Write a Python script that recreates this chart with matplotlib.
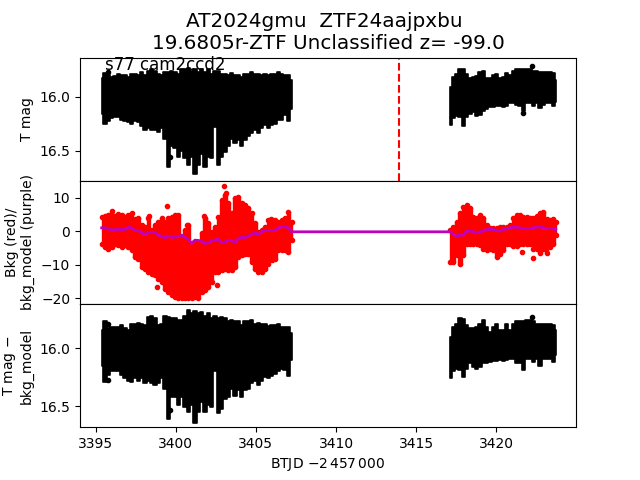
import matplotlib
matplotlib.use('Agg')
import matplotlib.pyplot as plt

#time grid of the two chunks, BTJD - 2457000
t_a = [3395.38, 3395.59, 3395.80, 3396.00, 3396.21, 3396.42, 3396.63, 3396.84, 3397.04, 3397.25,
       3397.46, 3397.67, 3397.87, 3398.08, 3398.29, 3398.50, 3398.71, 3398.91, 3399.12, 3399.33,
       3399.54, 3399.74, 3399.95, 3400.16, 3400.37, 3400.57, 3400.78, 3400.99, 3401.20, 3401.41,
       3401.61, 3401.82, 3402.03, 3402.24, 3402.44, 3402.65, 3402.86, 3403.07, 3403.28, 3403.48,
       3403.69, 3403.90, 3404.11, 3404.31, 3404.52, 3404.73, 3404.94, 3405.15, 3405.35, 3405.56,
       3405.77, 3405.98, 3406.18, 3406.39, 3406.60, 3406.81, 3407.02, 3407.22]
t_b = [3417.10, 3417.31, 3417.52, 3417.72, 3417.93, 3418.14, 3418.35, 3418.56, 3418.76, 3418.97,
       3419.18, 3419.39, 3419.60, 3419.80, 3420.01, 3420.22, 3420.43, 3420.64, 3420.85, 3421.05,
       3421.26, 3421.47, 3421.68, 3421.89, 3422.09, 3422.30, 3422.51, 3422.72, 3422.93, 3423.13,
       3423.34, 3423.55, 3423.70]

#T mag, extent of the points and errorbars
mag_hi_a = [15.83, 15.78, 15.80, 15.82, 15.81, 15.79, 15.80, 15.80, 15.82, 15.79,
            15.79, 15.80, 15.77, 15.80, 15.76, 15.75, 15.76, 15.79, 15.80, 15.77,
            15.77, 15.76, 15.77, 15.79, 15.75, 15.75, 15.74, 15.76, 15.75, 15.77,
            15.75, 15.77, 15.75, 15.79, 15.76, 15.76, 15.79, 15.79, 15.80, 15.78,
            15.80, 15.80, 15.82, 15.79, 15.79, 15.77, 15.79, 15.79, 15.80, 15.79,
            15.80, 15.79, 15.79, 15.77, 15.79, 15.80, 15.80, 15.85]
mag_lo_a = [16.16, 16.25, 16.23, 16.20, 16.19, 16.19, 16.22, 16.23, 16.24, 16.25,
            16.23, 16.24, 16.27, 16.31, 16.29, 16.31, 16.31, 16.33, 16.29, 16.39,
            16.65, 16.46, 16.48, 16.56, 16.50, 16.57, 16.63, 16.56, 16.72, 16.63,
            16.53, 16.65, 16.56, 16.57, 16.28, 16.63, 16.56, 16.51, 16.46, 16.39,
            16.43, 16.40, 16.46, 16.40, 16.37, 16.34, 16.31, 16.34, 16.29, 16.26,
            16.29, 16.26, 16.25, 16.22, 16.22, 16.17, 16.23, 16.12]
mag_hi_b = [15.91, 15.82, 15.79, 15.75, 15.75, 15.79, 15.83, 15.82, 15.81, 15.77,
            15.76, 15.83, 15.83, 15.80, 15.79, 15.83, 15.82, 15.78, 15.80, 15.76,
            15.75, 15.75, 15.75, 15.75, 15.75, 15.76, 15.76, 15.77, 15.77, 15.77,
            15.77, 15.78, 15.85]
mag_lo_b = [16.26, 16.20, 16.18, 16.19, 16.27, 16.19, 16.16, 16.14, 16.18, 16.17,
            16.13, 16.12, 16.10, 16.10, 16.09, 16.09, 16.10, 16.09, 16.06, 16.06,
            16.08, 16.09, 16.13, 16.06, 16.06, 16.09, 16.06, 16.11, 16.08, 16.06,
            16.06, 16.09, 16.05]
mag_out_t = [3399.65, 3395.80, 3422.20, 3421.67]
mag_out_y = [16.56, 15.77, 15.72, 16.15]

#Bkg, extent of the red points
bkg_hi_a = [4.33, 4.53, 4.83, 6.12, 4.53, 5.02, 4.83, 4.13, 4.83, 5.32,
            3.53, 3.83, 1.84, 1.34, 3.83, 0.35, 1.84, 2.84, 3.83, 2.84,
            3.83, 4.33, 4.83, 4.83, -2.14, 0.35, 1.84, -3.63, -3.13, -3.13,
            -0.65, 3.83, 2.34, -0.15, 1.34, 4.33, 9.30, 10.80, 8.31, 5.32,
            9.80, 10.30, 8.31, 7.81, 6.82, 5.32, 2.34, -0.15, 0.35, 1.34,
            3.33, 3.33, 3.33, 2.84, 3.33, 3.83, 5.62, 2.84]
bkg_lo_a = [-3.73, -4.73, -5.42, -4.73, -3.73, -4.03, -4.73, -4.23, -4.73, -5.72,
            -7.71, -8.21, -10.70, -11.19, -12.19, -12.69, -13.18, -14.18, -15.17, -17.16,
            -18.16, -19.15, -19.65, -19.95, -19.95, -19.95, -19.95, -19.95, -19.65, -19.95,
            -18.16, -17.66, -16.67, -15.17, -12.19, -12.19, -11.69, -11.19, -11.69, -11.69,
            -10.70, -7.71, -7.21, -6.72, -6.72, -9.20, -11.19, -12.19, -12.19, -11.19,
            -9.70, -8.71, -8.21, -5.72, -5.72, -5.72, -6.22, -2.74]
bkg_hi_b = [0.35, 1.34, 2.84, 5.32, 7.31, 7.81, 6.82, 4.33, 3.83, 4.83,
            3.83, 1.84, 0.85, 0.85, 0.85, 1.34, 1.34, 1.34, 1.84, 3.83,
            4.83, 4.83, 4.13, 4.13, 3.83, 3.83, 4.53, 5.32, 5.82, 3.53,
            3.33, 3.53, 2.84]
bkg_lo_b = [-9.20, -9.20, -7.21, -9.70, -7.21, -3.73, -3.73, -3.73, -3.73, -4.23,
            -5.22, -5.72, -5.22, -5.72, -7.71, -6.72, -5.72, -3.73, -3.73, -4.43,
            -4.43, -3.73, -3.73, -3.73, -3.73, -5.22, -5.22, -6.42, -5.22, -6.42,
            -4.73, -3.73, -1.24]
bkg_out_t = [3403.03, 3403.16, 3399.48, 3398.36, 3398.81, 3402.60, 3401.79, 3400.72, 3405.92, 3421.60, 3422.30]
bkg_out_y = [13.5, 11.4, 7.5, 4.5, -16.7, -16.1, 4.5, 2.0, 3.7, -6.2, -7.95]

#bkg_model, purple line
model_a = [1.04, 1.04, 0.75, 0.35, 0.55, 0.55, 0.55, 0.55, 1.24, 1.04,
           0.25, 0.25, -0.45, -0.95, -0.45, -0.25, -0.45, -1.14, -1.44, -1.94,
           -1.44, -1.74, -1.74, -1.64, -1.14, -1.74, -2.44, -3.63, -2.64, -2.74,
           -2.94, -3.63, -3.43, -2.94, -2.64, -2.24, -3.43, -3.13, -2.74, -2.64,
           -3.43, -2.14, -1.74, -1.94, -1.44, -0.95, -0.45, -0.95, -0.15, 0.25,
           0.25, 0.25, 0.25, 1.04, 1.34, 1.34, 1.04, -0.15]
model_b = [-0.15, -0.95, -1.44, -1.14, -1.14, 0.05, 0.05, -0.15, -0.45, -0.15,
           0.05, 0.55, 0.55, 0.55, 0.25, 0.05, 0.55, 0.75, 1.04, 1.24,
           1.24, 1.04, 0.75, 0.75, 0.85, 1.04, 1.24, 1.34, 1.04, 0.85,
           0.85, 0.75, 0.55]

#T mag - bkg_model
sub_hi_a = [15.84, 15.77, 15.83, 15.82, 15.82, 15.82, 15.80, 15.83, 15.84, 15.79,
            15.79, 15.78, 15.79, 15.80, 15.73, 15.72, 15.74, 15.80, 15.79, 15.72,
            15.73, 15.74, 15.74, 15.76, 15.76, 15.72, 15.67, 15.70, 15.68, 15.70,
            15.69, 15.72, 15.70, 15.74, 15.72, 15.74, 15.73, 15.74, 15.77, 15.76,
            15.77, 15.77, 15.80, 15.77, 15.77, 15.76, 15.79, 15.78, 15.79, 15.79,
            15.81, 15.80, 15.80, 15.79, 15.82, 15.82, 15.82, 15.87]
sub_lo_a = [16.15, 16.29, 16.23, 16.20, 16.20, 16.20, 16.23, 16.26, 16.28, 16.29,
            16.26, 16.28, 16.26, 16.30, 16.28, 16.30, 16.32, 16.30, 16.26, 16.35,
            16.61, 16.42, 16.42, 16.49, 16.42, 16.51, 16.55, 16.49, 16.64, 16.55,
            16.46, 16.55, 16.49, 16.51, 16.20, 16.56, 16.52, 16.44, 16.42, 16.35,
            16.41, 16.36, 16.42, 16.36, 16.35, 16.30, 16.28, 16.32, 16.28, 16.25,
            16.26, 16.24, 16.22, 16.20, 16.18, 16.19, 16.24, 16.10]
sub_hi_b = [15.90, 15.82, 15.79, 15.74, 15.75, 15.80, 15.83, 15.83, 15.82, 15.79,
            15.76, 15.82, 15.86, 15.82, 15.79, 15.84, 15.84, 15.79, 15.84, 15.79,
            15.77, 15.77, 15.77, 15.76, 15.76, 15.77, 15.79, 15.79, 15.79, 15.79,
            15.79, 15.80, 15.84]
sub_lo_b = [16.26, 16.20, 16.18, 16.19, 16.25, 16.18, 16.13, 16.16, 16.18, 16.16,
            16.13, 16.13, 16.12, 16.11, 16.11, 16.10, 16.11, 16.10, 16.09, 16.09,
            16.13, 16.13, 16.19, 16.09, 16.09, 16.12, 16.09, 16.15, 16.09, 16.09,
            16.09, 16.12, 16.06]
sub_out_t = [3399.65, 3395.80, 3395.80, 3422.20]
sub_out_y = [16.53, 15.79, 16.27, 15.73]

t_detect = 3413.92

fig, (ax1, ax2, ax3) = plt.subplots(3, 1, sharex=True)
fig.subplots_adjust(hspace=0)

#light curve panels
for ax, hi_a, lo_a, hi_b, lo_b, out_t, out_y in [
        (ax1, mag_hi_a, mag_lo_a, mag_hi_b, mag_lo_b, mag_out_t, mag_out_y),
        (ax3, sub_hi_a, sub_lo_a, sub_hi_b, sub_lo_b, sub_out_t, sub_out_y)]:
    ax.fill_between(t_a, hi_a, lo_a, step='mid', color='k', lw=1.2)
    ax.fill_between(t_b, hi_b, lo_b, step='mid', color='k', lw=1.2)
    ax.plot(out_t, out_y, 'k.')

ax1.axvline(t_detect, color='r', ls='--')
ax1.text(3395.6, 15.755, 's77 cam2ccd2', fontsize=12)
ax1.set_ylim(16.78, 15.64)
ax1.set_yticks([16.0, 16.5])
ax1.set_ylabel('T mag')

#background panel
ax2.fill_between(t_a, bkg_lo_a, bkg_hi_a, step='mid', color='r', lw=1)
ax2.fill_between(t_b, bkg_lo_b, bkg_hi_b, step='mid', color='r', lw=1)
ax2.plot(t_a + t_b, bkg_hi_a + bkg_hi_b, 'r.')
ax2.plot(t_a + t_b, bkg_lo_a + bkg_lo_b, 'r.')
ax2.plot(bkg_out_t, bkg_out_y, 'r.')
ax2.plot(t_a + t_b, model_a + model_b, color='m', lw=2)
ax2.set_ylim(-21.7, 15.07)
ax2.set_yticks([-20, -10, 0, 10])
ax2.set_ylabel('Bkg (red)/\nbkg_model (purple)')

ax3.set_ylim(16.68, 15.62)
ax3.set_yticks([16.0, 16.5])
ax3.set_ylabel('T mag $-$\nbkg_model')
ax3.set_xlim(3394.03, 3424.96)
ax3.set_xticks([3395, 3400, 3405, 3410, 3415, 3420])
ax3.set_xlabel(r'BTJD $-2\,457\,000$')

ax1.set_title('AT2024gmu  ZTF24aajpxbu \n19.6805r-ZTF Unclassified z= -99.0', fontsize=14.4)

plt.savefig('out.png', dpi=100)
